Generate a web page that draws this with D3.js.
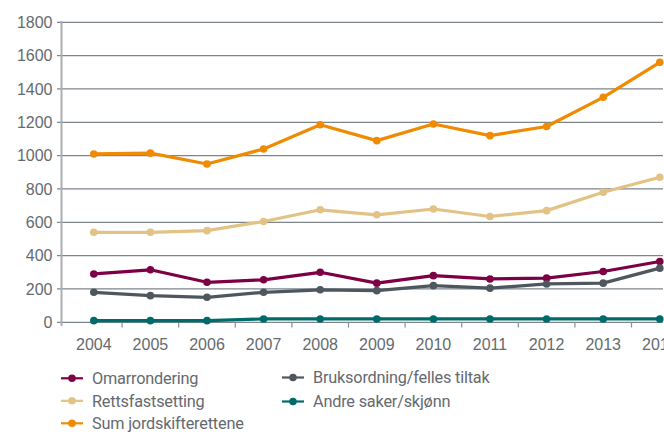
<!DOCTYPE html>
<html><head><meta charset="utf-8">
<script src="https://cdn.jsdelivr.net/npm/d3@7"></script>
<style>
body{margin:0;background:#fff;}
svg{display:block;}
</style></head>
<body><svg id="c" width="664" height="432"></svg>
<script>
const years = [2004,2005,2006,2007,2008,2009,2010,2011,2012,2013,2014];
const yTicks = [0,200,400,600,800,1000,1200,1400,1600,1800];
const seriesNames = ["Omarrondering","Bruksordning/felles tiltak","Rettsfastsetting","Andre saker/skjønn","Sum jordskifterettene"];
const seriesColors = ["#7d0046","#4f575e","#e2c285","#006b6b","#f08a00"];
const omarrondering = [290,315,240,255,300,235,280,260,265,305,365];
const bruksordning  = [180,160,150,180,195,190,220,205,230,235,325];
const rettsfast     = [540,540,550,605,675,645,680,635,670,780,870];
const andre         = [10,10,10,20,20,20,20,20,20,20,20];
const sum           = [1010,1015,950,1040,1185,1090,1190,1120,1175,1350,1560];
const seriesValues = [omarrondering,bruksordning,rettsfast,andre,sum];
const drawOrder = [4,2,0,1,3];

const svg = d3.select("#c");
const x = d3.scaleBand().domain(years).range([65.5, 65.5+11*56.6]);
const y = d3.scaleLinear().domain([0,1800]).range([322.3,22.3]);
const textCol = "#656a6f";
const axisFont = "'Liberation Sans Narrow', 'Liberation Sans', sans-serif";

// gridlines
svg.append("g").selectAll("line").data(yTicks).join("line")
  .attr("x1",57).attr("x2",663)
  .attr("y1",d=>y(d)).attr("y2",d=>y(d))
  .attr("stroke","#7d858b").attr("stroke-width",1.2);
// y axis line
svg.append("line").attr("x1",61.5).attr("x2",61.5).attr("y1",21).attr("y2",326)
  .attr("stroke","#a9aeb2").attr("stroke-width",2);
// y labels
svg.append("g").selectAll("text").data(yTicks).join("text")
  .attr("x",52.5).attr("y",d=>y(d)).attr("dy","0.36em")
  .attr("text-anchor","end").attr("font-family",axisFont).attr("font-size",16)
  .attr("fill",textCol).text(d=>d);
// x ticks at band boundaries
svg.append("g").selectAll("line").data(years.slice(1)).join("line")
  .attr("x1",d=>x(d)).attr("x2",d=>x(d)).attr("y1",322.3).attr("y2",327.5)
  .attr("stroke","#8a9096").attr("stroke-width",1.2);
// x labels
svg.append("g").selectAll("text").data(years).join("text")
  .attr("x",d=>x(d)+x.bandwidth()/2).attr("y",344).attr("dy","0.36em")
  .attr("text-anchor","middle").attr("font-family",axisFont).attr("font-size",16)
  .attr("fill",textCol).text(d=>d);

const line = d3.line().x((d,i)=>x(years[i])+x.bandwidth()/2).y(d=>y(d));
drawOrder.forEach(k=>{
  const g = svg.append("g");
  g.append("path").datum(seriesValues[k]).attr("d",line)
    .attr("fill","none").attr("stroke",seriesColors[k]).attr("stroke-width",3.2)
    .attr("stroke-linejoin","round");
  g.selectAll("circle").data(seriesValues[k]).join("circle")
    .attr("cx",(d,i)=>x(years[i])+x.bandwidth()/2).attr("cy",d=>y(d)).attr("r",3.8)
    .attr("fill",seriesColors[k]);
});

// legend
const legPos = [[61,378.3],[282,377.5],[61,400.8],[282,401.5],[61,423.3]];
seriesNames.forEach((name,k)=>{
  const [lx,ly] = legPos[k];
  const g = svg.append("g").attr("transform",`translate(${lx},${ly})`);
  g.append("line").attr("x1",0).attr("x2",22).attr("y1",0).attr("y2",0)
    .attr("stroke",seriesColors[k]).attr("stroke-width",2.2);
  g.append("circle").attr("cx",11).attr("cy",0).attr("r",3.8).attr("fill",seriesColors[k]);
  g.append("text").attr("x",31).attr("y",0).attr("dy","0.36em")
    .attr("font-family","Roboto, sans-serif").attr("font-size",16.3).attr("letter-spacing","-0.2px")
    .attr("fill",textCol).text(name);
});
</script></body></html>
